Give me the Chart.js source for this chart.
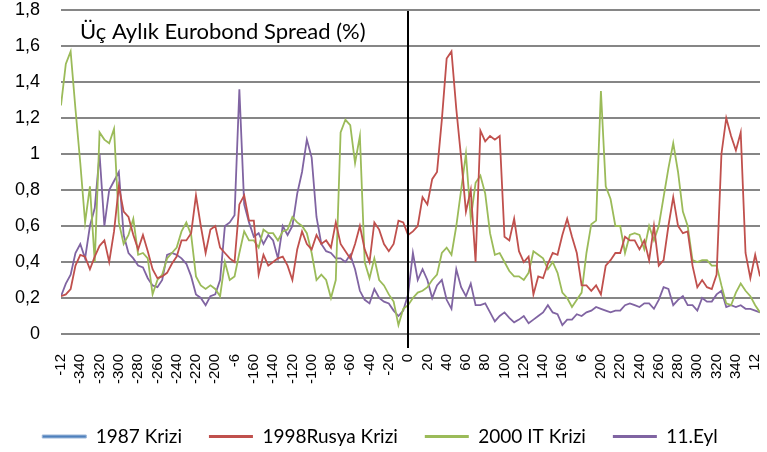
<!DOCTYPE html>
<html>
<head>
<meta charset="utf-8">
<script src="https://cdn.jsdelivr.net/npm/chart.js@4.4.1/dist/chart.umd.min.js"></script>
<style>
html,body{margin:0;padding:0;background:#fff;}
#wrap{width:767px;height:452px;position:relative;}
#warn{position:absolute;left:100px;top:100px;color:red;font:14px sans-serif;}
</style>
</head>
<body>
<div id="wrap"><canvas id="c" width="767" height="452"></canvas></div>
<script>
// x categories: days relative to the crisis (every 5th day)
const days = Array.from({length: 146}, (_, i) => -360 + 5 * i);

const xTickValues = [-360,-340,-320,-300,-280,-260,-240,-220,-200,-180,-160,-140,-120,-100,-80,-60,-40,-20,0,20,40,60,80,100,120,140,160,180,200,220,240,260,280,300,320,340,360];
const xTickLabels = ["-12","-340","-320","-300","-280","-260","-240","-220","-200","-6","-160","-140","-120","-100","-80","-60","-40","-20","0","20","40","60","80","100","120","140","160","6","200","220","240","260","280","300","320","340","12"];
const yTickValues = [0,0.2,0.4,0.6,0.8,1,1.2,1.4,1.6,1.8];
const yTickLabels = ["0","0,2","0,4","0,6","0,8","1","1,2","1,4","1,6","1,8"];

const titleText = "Üç Aylık Eurobond Spread (%)";
const crisisDay = 0;

const krizi1987 = [];

const rusya1998 = [
  0.21,0.22,0.25,0.38,0.44,0.43,0.36,0.43,0.49,0.52,
  0.40,0.57,0.82,0.68,0.65,0.55,0.47,0.55,0.46,0.36,
  0.31,0.32,0.34,0.39,0.43,0.52,0.52,0.56,0.77,0.60,
  0.45,0.58,0.60,0.48,0.45,0.42,0.40,0.72,0.77,0.63,
  0.63,0.33,0.44,0.38,0.40,0.42,0.43,0.38,0.30,0.47,
  0.57,0.50,0.47,0.55,0.50,0.52,0.48,0.62,0.50,0.46,
  0.42,0.50,0.60,0.47,0.40,0.62,0.58,0.50,0.46,0.50,
  0.63,0.62,0.55,0.57,0.60,0.76,0.72,0.86,0.90,1.19,
  1.53,1.57,1.25,0.98,0.68,0.80,0.40,1.13,1.07,1.10,
  1.08,1.10,0.54,0.52,0.64,0.46,0.40,0.43,0.22,0.32,
  0.31,0.39,0.45,0.44,0.55,0.64,0.54,0.45,0.27,0.27,
  0.24,0.27,0.22,0.38,0.41,0.45,0.45,0.54,0.52,0.52,
  0.47,0.52,0.41,0.60,0.38,0.41,0.60,0.76,0.60,0.56,
  0.57,0.38,0.26,0.30,0.26,0.25,0.33,1.00,1.20,1.10,
  1.02,1.12,0.45,0.31,0.44,0.32
];

const it2000 = [
  1.27,1.50,1.57,1.25,0.95,0.62,0.82,0.40,1.12,1.08,
  1.06,1.14,0.62,0.50,0.55,0.64,0.44,0.45,0.42,0.22,
  0.30,0.33,0.42,0.45,0.48,0.57,0.62,0.55,0.32,0.27,
  0.25,0.27,0.25,0.21,0.40,0.30,0.32,0.45,0.57,0.52,
  0.52,0.48,0.58,0.56,0.56,0.52,0.57,0.58,0.65,0.62,
  0.60,0.56,0.45,0.30,0.33,0.30,0.20,0.30,1.12,1.19,
  1.16,0.95,1.10,0.40,0.31,0.42,0.30,0.27,0.22,0.18,
  0.05,0.14,0.16,0.20,0.23,0.24,0.26,0.30,0.33,0.45,
  0.48,0.44,0.60,0.80,1.00,0.64,0.84,0.88,0.78,0.56,
  0.44,0.45,0.40,0.35,0.32,0.32,0.30,0.34,0.46,0.44,
  0.42,0.36,0.40,0.34,0.23,0.20,0.15,0.19,0.23,0.45,
  0.61,0.63,1.35,0.82,0.75,0.60,0.60,0.45,0.55,0.56,
  0.55,0.47,0.60,0.52,0.60,0.76,0.92,1.06,0.90,0.68,
  0.60,0.41,0.40,0.41,0.41,0.38,0.38,0.27,0.17,0.16,
  0.23,0.28,0.24,0.21,0.16,0.12
];

const eylul11 = [
  0.21,0.28,0.33,0.45,0.50,0.42,0.60,0.70,1.00,0.60,
  0.80,0.85,0.90,0.55,0.45,0.42,0.38,0.37,0.31,0.27,
  0.26,0.30,0.44,0.45,0.44,0.42,0.39,0.32,0.22,0.20,
  0.16,0.21,0.22,0.30,0.60,0.62,0.66,1.36,0.72,0.62,
  0.54,0.56,0.50,0.55,0.52,0.42,0.60,0.55,0.60,0.78,
  0.90,1.08,0.98,0.65,0.50,0.46,0.45,0.42,0.42,0.40,
  0.44,0.36,0.24,0.19,0.17,0.25,0.20,0.18,0.17,0.13,
  0.10,0.13,0.22,0.45,0.30,0.36,0.30,0.20,0.27,0.30,
  0.19,0.14,0.36,0.26,0.21,0.28,0.16,0.16,0.17,0.12,
  0.07,0.10,0.12,0.09,0.065,0.08,0.10,0.06,0.08,0.10,
  0.12,0.16,0.12,0.11,0.05,0.08,0.08,0.11,0.10,0.12,
  0.13,0.15,0.14,0.13,0.12,0.13,0.13,0.16,0.17,0.16,
  0.15,0.17,0.17,0.14,0.19,0.26,0.25,0.16,0.19,0.21,
  0.16,0.16,0.13,0.20,0.18,0.18,0.22,0.24,0.15,0.16,
  0.15,0.16,0.14,0.14,0.13,0.12
];

const toPoints = arr => arr.map((v, i) => ({x: days[i], y: v}));

const overlay = {
  id: 'overlay',
  afterDatasetsDraw(chart) {
    const {ctx, chartArea, scales} = chart;
    const px = Math.round(scales.x.getPixelForValue(crisisDay));
    ctx.save();
    ctx.strokeStyle = '#000';
    ctx.lineWidth = 2;
    ctx.beginPath();
    ctx.moveTo(px, chartArea.top + 1);
    ctx.lineTo(px, chartArea.bottom + 14);
    ctx.stroke();
    ctx.fillStyle = '#000';
    ctx.font = '22px Lato';
    ctx.textBaseline = 'alphabetic';
    ctx.textAlign = 'left';
    ctx.fillText(titleText, chartArea.left + 19, chartArea.top + 29);
    ctx.restore();
  }
};

new Chart(document.getElementById('c'), {
  type: 'line',
  data: {
    datasets: [
      {label: '1987 Krizi', data: toPoints(krizi1987), borderColor: '#4F81BD', backgroundColor: '#4F81BD'},
      {label: '1998Rusya Krizi', data: toPoints(rusya1998), borderColor: '#C0504D', backgroundColor: '#C0504D'},
      {label: '2000 IT Krizi', data: toPoints(it2000), borderColor: '#9BBB59', backgroundColor: '#9BBB59'},
      {label: '11.Eyl', data: toPoints(eylul11), borderColor: '#8064A2', backgroundColor: '#8064A2'}
    ]
  },
  options: {
    responsive: false,
    animation: false,
    devicePixelRatio: 1,
    layout: {padding: {top: 10, right: 7, bottom: -4, left: 0}},
    elements: {point: {radius: 0}, line: {borderWidth: 1.8, tension: 0}},
    scales: {
      x: {
        type: 'linear', min: -360, max: 365,
        afterBuildTicks: s => { s.ticks = xTickValues.map(v => ({value: v})); },
        ticks: {
          autoSkip: false, maxRotation: 90, minRotation: 90, padding: 20,
          color: '#000', font: {family: 'Liberation Sans', size: 15},
          callback: v => xTickLabels[xTickValues.indexOf(v)]
        },
        grid: {display: false, drawTicks: false},
        border: {display: false},
        afterFit: s => { s.height = 66; s.paddingLeft = 0; s.paddingRight = 0; }
      },
      y: {
        min: 0, max: 1.8,
        afterBuildTicks: s => { s.ticks = yTickValues.map(v => ({value: v})); },
        ticks: {
          padding: 21, color: '#000', font: {family: 'Liberation Sans', size: 18},
          callback: (v, i) => yTickLabels[i]
        },
        grid: {color: '#868686', lineWidth: 2, drawTicks: false},
        border: {display: false},
        afterFit: s => { s.width = 61; s.paddingTop = 0; s.paddingBottom = 0; }
      }
    },
    plugins: {
      legend: {
        position: 'bottom',
        labels: {
          boxWidth: 44, boxHeight: 3, padding: 27, color: '#000',
          font: {family: 'Lato', size: 19},
          generateLabels: chart => chart.data.datasets.map((ds, i) => ({
            text: ds.label, fillStyle: ds.borderColor,
            strokeStyle: i === 0 ? '#9db7d9' : ds.borderColor,
            lineWidth: i === 0 ? 1 : 0, hidden: false, datasetIndex: i
          }))
        }
      },
      tooltip: {enabled: false}
    }
  },
  plugins: [overlay]
});
</script>
</body>
</html>
